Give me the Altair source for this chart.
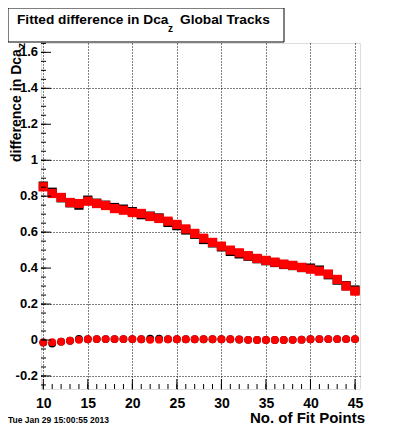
import altair as alt
import pandas as pd

# ---- data ----
x_points = list(range(10, 46))
red_squares = [0.852, 0.815, 0.793, 0.765, 0.759, 0.772, 0.759, 0.748, 0.731, 0.722,
               0.709, 0.704, 0.687, 0.676, 0.661, 0.643, 0.618, 0.593, 0.566, 0.543,
               0.522, 0.500, 0.485, 0.469, 0.454, 0.443, 0.433, 0.422, 0.415, 0.404,
               0.394, 0.383, 0.367, 0.337, 0.300, 0.272]
black_squares = [0.856, 0.822, 0.791, 0.763, 0.750, 0.778, 0.761, 0.750, 0.737, 0.728,
                 0.714, 0.697, 0.689, 0.679, 0.654, 0.636, 0.612, 0.588, 0.559, 0.540,
                 0.518, 0.493, 0.479, 0.466, 0.452, 0.441, 0.431, 0.420, 0.414, 0.403,
                 0.400, 0.389, 0.363, 0.333, 0.302, 0.278]
red_circles = [-0.013, -0.012, -0.009, -0.004, 0.001, 0.004, 0.005, 0.005, 0.005, 0.005,
               0.005, 0.004, 0.001, 0.002, 0.004, 0.004, 0.004, 0.004, 0.004, 0.004,
               0.004, 0.004, 0.003, 0.001, 0.000, 0.000, 0.000, 0.000, 0.001, 0.002,
               0.004, 0.005, 0.005, 0.005, 0.005, 0.005]
black_circles = [-0.014, -0.020, -0.009, -0.004, 0.006, 0.004, 0.005, 0.005, 0.005, 0.005,
                 0.005, 0.004, 0.008, 0.008, 0.004, 0.004, 0.004, 0.004, 0.004, 0.004,
                 0.004, 0.004, 0.003, 0.001, 0.000, 0.000, 0.000, 0.000, 0.001, 0.002,
                 0.004, 0.005, 0.005, 0.005, 0.005, 0.005]

x_major = [10, 15, 20, 25, 30, 35, 40, 45]
x_minor = list(range(10, 46))
y_major = [-0.2, 0.0, 0.2, 0.4, 0.6, 0.8, 1.0, 1.2, 1.4, 1.6]
y_labels = ["-0.2", "0", "0.2", "0.4", "0.6", "0.8", "1", "1.2", "1.4", "1.6"]
y_minor = [round(-0.25 + 0.05 * i, 2) for i in range(39)]

title_main = "Fitted difference in Dca"
title_sub = "z"
title_rest = "Global Tracks"
ytitle_main = "difference in Dca"
xtitle = "No. of Fit Points"
date_text = "Tue Jan 29 15:00:55 2013"

FONT = "Liberation Sans"
W, H = 319, 346
XDOM = [9.742, 45.56]
YDOM = [-0.2725, 1.652]

sq = pd.DataFrame({"x": x_points, "red": red_squares, "black": black_squares})
ci = pd.DataFrame({"x": x_points, "red": red_circles, "black": black_circles})
ylab = pd.DataFrame({"v": y_major, "t": y_labels})

xscale = alt.Scale(domain=XDOM, nice=False, zero=False)
yscale = alt.Scale(domain=YDOM, nice=False, zero=False)

xaxis = alt.Axis(values=x_major, format="d", grid=True, gridColor="black",
                 gridDash=[1, 2], gridWidth=1, gridOpacity=1, ticks=False, tickSize=0,
                 domain=False, labelFont=FONT, labelFontWeight="bold", labelFontSize=14,
                 labelColor="black", labelPadding=7, labelOverlap=False,
                 labelFlush=False, title=None)
yaxis = alt.Axis(values=y_major, grid=True, gridColor="black", gridDash=[1, 2],
                 gridWidth=1, gridOpacity=1, ticks=False, tickSize=0, domain=False,
                 labels=False, title=None)

black_sq_layer = alt.Chart(sq).mark_point(shape="square", filled=True, size=85,
                                          color="black", opacity=1).encode(
    x=alt.X("x:Q", scale=xscale, axis=xaxis),
    y=alt.Y("black:Q", scale=yscale, axis=yaxis))
red_sq_layer = alt.Chart(sq).mark_point(shape="square", filled=True, size=85,
                                        color="#ff0000", opacity=1).encode(
    x=alt.X("x:Q", scale=xscale), y=alt.Y("red:Q", scale=yscale))
black_ci_layer = alt.Chart(ci).mark_point(shape="circle", filled=True, size=62,
                                          color="black", opacity=1).encode(
    x=alt.X("x:Q", scale=xscale), y=alt.Y("black:Q", scale=yscale))
red_ci_layer = alt.Chart(ci).mark_point(shape="circle", filled=True, size=62,
                                        color="#ff0000", opacity=1).encode(
    x=alt.X("x:Q", scale=xscale), y=alt.Y("red:Q", scale=yscale))

# inside ticks (ROOT style)
xmaj = alt.Chart(pd.DataFrame({"v": x_major})).mark_rule(color="black", strokeWidth=1).encode(
    x=alt.X("v:Q", scale=xscale), y=alt.value(H), y2=alt.value(H - 10))
xmin = alt.Chart(pd.DataFrame({"v": x_minor})).mark_rule(color="black", strokeWidth=1).encode(
    x=alt.X("v:Q", scale=xscale), y=alt.value(H), y2=alt.value(H - 5))
ymaj = alt.Chart(pd.DataFrame({"v": y_major})).mark_rule(color="black", strokeWidth=1).encode(
    y=alt.Y("v:Q", scale=yscale), x=alt.value(0), x2=alt.value(10))
ymin = alt.Chart(pd.DataFrame({"v": y_minor})).mark_rule(color="black", strokeWidth=1).encode(
    y=alt.Y("v:Q", scale=yscale), x=alt.value(0), x2=alt.value(5))

ylabels = alt.Chart(ylab).mark_text(font=FONT, fontWeight="bold", fontSize=13,
                                    align="right", baseline="middle", color="black").encode(
    y=alt.Y("v:Q", scale=yscale), x=alt.value(-3), text="t:N")

one = pd.DataFrame({"a": [0]})

ytitle = alt.Chart(one).mark_text(text=ytitle_main, font=FONT, fontWeight="bold",
                                  fontSize=14, angle=270, align="left",
                                  baseline="alphabetic", color="black").encode(
    x=alt.value(-20.5), y=alt.value(119))
ytitle_sub = alt.Chart(one).mark_text(text=title_sub, font=FONT, fontWeight="bold",
                                      fontSize=10, angle=270, align="left",
                                      baseline="alphabetic", color="black").encode(
    x=alt.value(-16), y=alt.value(5))

box = alt.Chart(one).mark_rect(fill="white", stroke="black", strokeWidth=1).encode(
    x=alt.value(-33), x2=alt.value(243), y=alt.value(-35), y2=alt.value(-1))

t_main = alt.Chart(one).mark_text(text=title_main, font=FONT, fontWeight="bold",
                                  fontSize=13.7, align="left", baseline="alphabetic",
                                  color="black").encode(x=alt.value(-24), y=alt.value(-19))
t_sub = alt.Chart(one).mark_text(text=title_sub, font=FONT, fontWeight="bold",
                                 fontSize=10, align="left", baseline="alphabetic",
                                 color="black").encode(x=alt.value(127), y=alt.value(-11))
t_rest = alt.Chart(one).mark_text(text=title_rest, font=FONT, fontWeight="bold",
                                  fontSize=13.7, align="left", baseline="alphabetic",
                                  color="black").encode(x=alt.value(139), y=alt.value(-19))

x_title = alt.Chart(one).mark_text(text=xtitle, font=FONT, fontWeight="bold",
                                   fontSize=15, align="right", baseline="alphabetic",
                                   color="black").encode(x=alt.value(324), y=alt.value(380))
date = alt.Chart(one).mark_text(text=date_text, font=FONT, fontWeight="bold",
                                fontSize=8.5, align="left", baseline="alphabetic",
                                color="black").encode(x=alt.value(-33), y=alt.value(380))

chart = alt.layer(
    black_sq_layer, red_sq_layer, black_ci_layer, red_ci_layer,
    xmin, xmaj, ymin, ymaj, ylabels,
    ytitle, ytitle_sub, box, t_main, t_sub, t_rest, x_title, date
).properties(
    width=W, height=H,
    autosize=alt.AutoSizeParams(type="none"),
    padding={"left": 33, "top": 35, "right": 32, "bottom": 36},
).configure_view(stroke="black", strokeWidth=1).configure(background="white")

chart.save("out.html", embed_options={"renderer": "svg", "actions": False})
